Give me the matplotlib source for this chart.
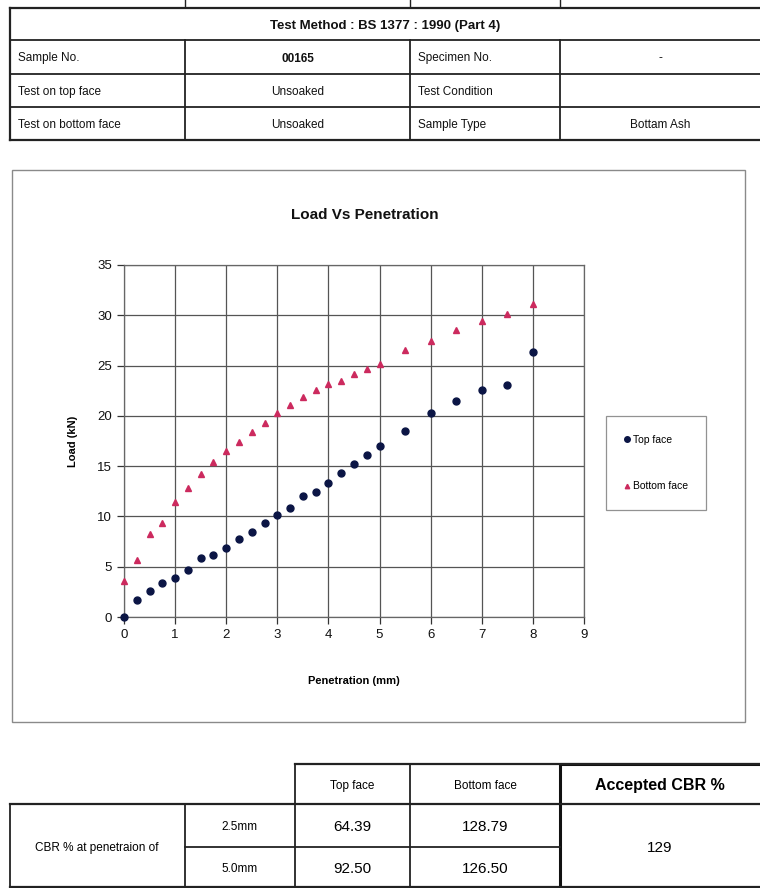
import matplotlib
matplotlib.use("Agg")
import matplotlib.pyplot as plt
from matplotlib.lines import Line2D
from matplotlib.patches import Rectangle

plt.rcParams['font.family'] = ['Liberation Sans', 'DejaVu Sans']

# ---------------- data ----------------
penetration = [0, 0.25, 0.5, 0.75, 1, 1.25, 1.5, 1.75, 2, 2.25, 2.5, 2.75, 3,
               3.25, 3.5, 3.75, 4, 4.25, 4.5, 4.75, 5, 5.5, 6, 6.5, 7, 7.5, 8]
top_face = [0, 1.7, 2.55, 3.4, 3.9, 4.7, 5.9, 6.2, 6.9, 7.8, 8.5, 9.3, 10.1,
            10.8, 12.0, 12.4, 13.3, 14.35, 15.25, 16.1, 17.0, 18.5, 20.3,
            21.5, 22.6, 23.1, 26.3]
bottom_face = [3.6, 5.7, 8.25, 9.35, 11.45, 12.85, 14.25, 15.4, 16.5, 17.45,
               18.4, 19.3, 20.3, 21.1, 21.9, 22.6, 23.2, 23.45, 24.15, 24.7,
               25.2, 26.5, 27.4, 28.5, 29.4, 30.1, 31.1]
series_labels = ["Top face", "Bottom face"]
x_ticks = list(range(0, 10))
y_ticks = list(range(0, 40, 5))

header_rows = [["Sample No.", "00165", "Specimen No.", "-"],
               ["Test on top face", "Unsoaked", "Test Condition", ""],
               ["Test on bottom face", "Unsoaked", "Sample Type", "Bottam Ash"]]
test_method = "Test Method : BS 1377 : 1990 (Part 4)"
cbr_depths = ["2.5mm", "5.0mm"]
cbr_top = ["64.39", "92.50"]
cbr_bottom = ["128.79", "126.50"]
accepted_cbr = "129"

W, H = 760, 888
fig = plt.figure(figsize=(W / 100, H / 100), dpi=100)
fig.patch.set_facecolor('white')

# overlay in pixel coordinates for tables / frame
ov = fig.add_axes([0, 0, 1, 1])
ov.set_xlim(0, W)
ov.set_ylim(H, 0)
ov.axis('off')

VA = 'center_baseline'

def hline(x0, x1, y, lw=1.3, c='#222222'):
    ov.add_line(Line2D([x0, x1], [y, y], lw=lw, color=c))

def vline(x, y0, y1, lw=1.3, c='#222222'):
    ov.add_line(Line2D([x, x], [y0, y1], lw=lw, color=c))

# --- top table ---
tl, tr = 10, 762
rows_y = [8, 40, 74, 107, 140]
cols_x = [tl, 185, 410, 560, tr]
for y in rows_y:
    hline(tl, tr, y, lw=1.6 if y in (8, 140) else 1.3)
vline(tl, rows_y[0], rows_y[-1], lw=1.6)
for x in cols_x[1:4]:
    vline(x, rows_y[1], rows_y[-1])
    vline(x, 0, 6, lw=1.0)
ov.text((tl + 760) / 2, (rows_y[0] + rows_y[1]) / 2, test_method, ha='center',
        va=VA, fontsize=9.5, fontweight='bold', color='#111111')
for i, row in enumerate(header_rows):
    yc = (rows_y[i + 1] + rows_y[i + 2]) / 2
    for j, txt in enumerate(row):
        if j in (0, 2):
            ov.text(cols_x[j] + 8, yc, txt, ha='left', va=VA, fontsize=8.5, color='#111111')
        else:
            xr = cols_x[j + 1] if j < 3 else 760
            ov.text((cols_x[j] + xr) / 2, yc, txt, ha='center', va=VA,
                    fontsize=8.5, color='#111111',
                    fontweight='bold' if (i == 0 and j == 1) else 'normal')

# --- chart frame ---
ov.add_patch(Rectangle((12, 170), 733, 552, fill=False, edgecolor='#8a8a8a', lw=1.0))
ov.text(365, 213, "Load Vs Penetration", ha='center', va=VA, fontsize=11,
        fontweight='bold', color='#111111')

# --- bottom table ---
bt = [764, 804, 847, 888]
hline(295, 762, bt[0], lw=1.6)
hline(10, 762, bt[1], lw=1.6)
hline(185, 560, bt[2], lw=1.3)
hline(10, 762, bt[3] - 1, lw=1.6)
vline(10, bt[1], bt[3])
vline(185, bt[1], bt[3])
vline(295, bt[0], bt[3])
vline(410, bt[0], bt[3])
ov.add_patch(Rectangle((560, bt[0]), 205, bt[3] - bt[0], fill=False, edgecolor='#111111', lw=2.2))
ov.text(352, (bt[0] + bt[1]) / 2, "Top face", ha='center', va=VA, fontsize=8.5)
ov.text(485, (bt[0] + bt[1]) / 2, "Bottom face", ha='center', va=VA, fontsize=8.5)
ov.text(660, (bt[0] + bt[1]) / 2, "Accepted CBR %", ha='center', va=VA,
        fontsize=11.5, fontweight='bold')
ov.text(97, (bt[1] + bt[3]) / 2, "CBR % at penetraion of", ha='center', va=VA, fontsize=8.5)
for k in range(2):
    yc = (bt[k + 1] + bt[k + 2]) / 2
    ov.text(240, yc, cbr_depths[k], ha='center', va=VA, fontsize=8.5)
    ov.text(352, yc, cbr_top[k], ha='center', va=VA, fontsize=11)
    ov.text(485, yc, cbr_bottom[k], ha='center', va=VA, fontsize=11)
ov.text(660, (bt[1] + bt[3]) / 2, accepted_cbr, ha='center', va=VA, fontsize=11)

# --- chart axes ---
ax_l, ax_r, ax_t, ax_b = 124, 584, 265, 617
ax = fig.add_axes([ax_l / W, 1 - ax_b / H, (ax_r - ax_l) / W, (ax_b - ax_t) / H])
ax.set_facecolor('white')
ax.plot(penetration, top_face, linestyle='none', marker='o', markersize=5,
        color='#0b1545', label=series_labels[0], zorder=3, clip_on=False)
ax.plot(penetration, bottom_face, linestyle='none', marker='^', markersize=4,
        color='#cc2a5e', label=series_labels[1], zorder=3, clip_on=False)
ax.set_xlim(0, 9)
ax.set_ylim(0, 35)
ax.set_xticks(x_ticks)
ax.set_yticks(y_ticks)
ax.grid(True, color='#555555', lw=0.9)
ax.set_axisbelow(True)
for s in ax.spines.values():
    s.set_color('#666666')
    s.set_linewidth(0.9)
ax.tick_params(axis='both', labelsize=9.5, colors='#333333', length=5, width=0.9,
               labelcolor='#111111')
ax.set_xlabel("Penetration (mm)", fontsize=8, fontweight='bold', labelpad=25)
ax.set_ylabel("Load (kN)", fontsize=8, fontweight='bold', labelpad=14)

leg = ax.legend(loc='center', bbox_to_anchor=(656 / W, 1 - 463 / H),
                bbox_transform=fig.transFigure, fontsize=7.5, frameon=True,
                fancybox=False, edgecolor='#777777', labelspacing=3.5,
                handlelength=0.6, handletextpad=0.2, borderpad=1.8,
                borderaxespad=0, markerscale=0.8)
leg.get_frame().set_linewidth(0.9)

fig.savefig("out.png", dpi=100, facecolor='white')
